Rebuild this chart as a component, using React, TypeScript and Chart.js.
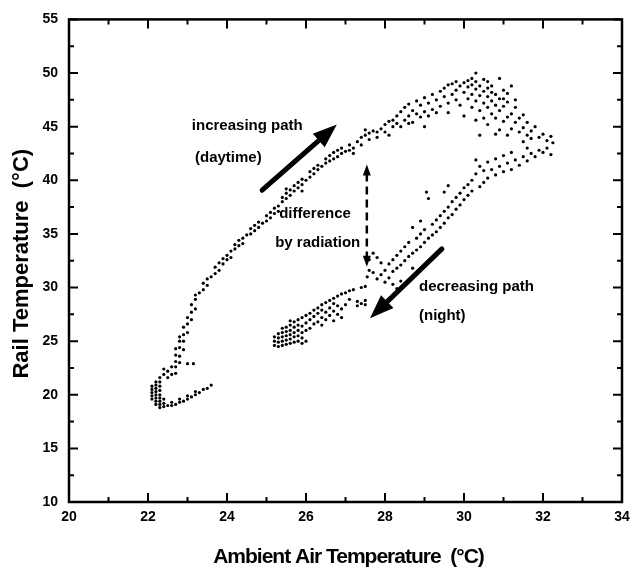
import React, { useEffect, useRef } from 'react';
import { Chart, registerables } from 'chart.js';

Chart.register(...registerables);

// ---- Data (Ambient Air Temperature °C, Rail Temperature °C) ----
const startCluster: [number, number][] = [
  [22.1, 19.6], [22.1, 19.9], [22.1, 20.2], [22.1, 20.5], [22.1, 20.8],
  [22.2, 19.1], [22.2, 19.4], [22.2, 19.7], [22.2, 20.0], [22.2, 20.3], [22.2, 20.6], [22.2, 20.9], [22.2, 21.2],
  [22.3, 18.8], [22.3, 19.1], [22.3, 19.4], [22.3, 19.7], [22.3, 20.0], [22.3, 20.4], [22.3, 20.8], [22.3, 21.2], [22.3, 21.6],
  [22.4, 18.9], [22.4, 19.2], [22.4, 19.6], [22.4, 21.9], [22.4, 22.4],
];

const lowerTail: [number, number][] = [
  [22.5, 19.0], [22.6, 19.0], [22.6, 19.3], [22.7, 19.1], [22.8, 19.3], [22.8, 19.6], [22.9, 19.4],
  [23.0, 19.6], [23.0, 19.9], [23.1, 19.8], [23.2, 20.0], [23.2, 20.3], [23.3, 20.2], [23.4, 20.5],
  [23.5, 20.6], [23.6, 20.9],
];

const daytimePath: [number, number][] = [
  [22.5, 21.6], [22.5, 22.2], [22.6, 21.9], [22.6, 22.6],
  [22.7, 22.0], [22.7, 22.6], [22.7, 23.1], [22.7, 23.7], [22.7, 24.3],
  [22.8, 23.0], [22.8, 23.6], [22.8, 24.4], [22.8, 25.0], [22.8, 25.4],
  [22.9, 24.2], [22.9, 25.0], [22.9, 25.6], [22.9, 26.3],
  [23.0, 22.9], [23.0, 25.8], [23.0, 26.6], [23.0, 27.2], [23.15, 22.9],
  [23.1, 27.0], [23.1, 27.7], [23.1, 28.4], [23.2, 28.0], [23.2, 28.9], [23.2, 29.3],
  [23.3, 29.5], [23.4, 29.8], [23.4, 30.4], [23.5, 30.2], [23.5, 30.8],
  [23.6, 31.0], [23.7, 31.3], [23.7, 31.9], [23.8, 31.6], [23.8, 32.3],
  [23.9, 32.2], [23.9, 32.7], [24.0, 32.6], [24.0, 33.0], [24.1, 32.8], [24.1, 33.4],
  [24.2, 33.6], [24.2, 34.0], [24.3, 33.9], [24.3, 34.4], [24.4, 34.6], [24.4, 34.1],
  [24.5, 34.9], [24.6, 35.0], [24.6, 35.5], [24.7, 35.3], [24.7, 35.8], [24.8, 35.6], [24.8, 36.1],
  [24.9, 36.0], [25.0, 36.2], [25.0, 36.7], [25.1, 36.5], [25.1, 37.0], [25.2, 36.9], [25.2, 37.4],
  [25.3, 37.6], [25.3, 37.1], [25.4, 38.0], [25.4, 38.4], [25.5, 38.3], [25.5, 38.8], [25.5, 39.2],
  [25.6, 38.6], [25.6, 39.1], [25.7, 39.0], [25.7, 39.5], [25.8, 39.3], [25.8, 39.8], [25.9, 39.6],
  [25.9, 40.1], [25.9, 39.0],
  [26.0, 40.0], [26.1, 40.3], [26.1, 40.8], [26.2, 40.6], [26.2, 41.1], [26.3, 41.0], [26.3, 41.4],
  [26.4, 41.3], [26.5, 41.6], [26.5, 42.0], [26.6, 41.8], [26.6, 42.3], [26.7, 42.0], [26.7, 42.6],
  [26.8, 42.2], [26.8, 42.8], [26.9, 42.5], [26.9, 43.0],
  [27.0, 42.7], [27.1, 42.8], [27.1, 43.3], [27.2, 43.0], [27.2, 42.5], [27.3, 43.6], [27.4, 43.3],
  [27.4, 44.0],
  [27.5, 44.2], [27.5, 44.7], [27.6, 43.8], [27.6, 44.4], [27.7, 44.6], [27.8, 44.0], [27.8, 44.5],
  [27.9, 44.8], [28.0, 44.5], [28.0, 45.2], [28.1, 44.2], [28.1, 45.5], [28.2, 45.0], [28.2, 45.6],
  [28.3, 45.3], [28.3, 46.0], [28.4, 45.0], [28.4, 46.4], [28.5, 45.6], [28.5, 46.8], [28.6, 46.0],
  [28.6, 47.1], [28.6, 45.3], [28.7, 45.4], [28.7, 46.5], [28.8, 46.2], [28.8, 47.4], [28.9, 45.9],
  [28.9, 47.0], [29.0, 46.4], [29.0, 47.7], [29.0, 45.0],
  [29.1, 47.2], [29.1, 46.0], [29.2, 46.6], [29.2, 48.0], [29.3, 47.5], [29.3, 46.3], [29.4, 48.3],
  [29.4, 46.9],
];

const peakCluster: [number, number][] = [
  [29.5, 47.8], [29.5, 48.6], [29.6, 47.2], [29.6, 48.9], [29.6, 46.3], [29.7, 48.0], [29.7, 49.0],
  [29.8, 47.5], [29.8, 48.4], [29.8, 49.2], [29.9, 48.8], [29.9, 47.0],
  [30.0, 48.2], [30.0, 49.1], [30.0, 46.0], [30.1, 47.6], [30.1, 48.7], [30.1, 49.3], [30.2, 48.0],
  [30.2, 48.9], [30.2, 46.8], [30.2, 49.5],
  [30.3, 47.4], [30.3, 48.5], [30.3, 49.2], [30.3, 45.6], [30.3, 50.0], [30.4, 47.9], [30.4, 48.8],
  [30.4, 46.5], [30.4, 44.2], [30.5, 47.2], [30.5, 48.3], [30.5, 49.4], [30.5, 45.8],
  [30.6, 46.8], [30.6, 47.8], [30.6, 48.6], [30.6, 45.2], [30.6, 49.2], [30.7, 46.2], [30.7, 47.4],
  [30.7, 48.2], [30.7, 48.8],
  [30.8, 45.8], [30.8, 47.0], [30.8, 48.0], [30.8, 44.3], [30.9, 46.5], [30.9, 47.6], [30.9, 49.5],
  [30.9, 44.7],
  [31.0, 45.5], [31.0, 46.9], [31.0, 48.4], [31.0, 47.6], [31.1, 45.9], [31.1, 47.3], [31.1, 44.2],
  [31.1, 48.1],
  [31.2, 44.8], [31.2, 46.2], [31.2, 48.8], [31.3, 45.4], [31.3, 46.8], [31.3, 47.5], [31.4, 44.5],
  [31.4, 45.8],
  [31.5, 44.9], [31.5, 46.1], [31.5, 43.6], [31.6, 44.2], [31.6, 45.4], [31.7, 44.6], [31.7, 43.9],
  [31.8, 45.0], [31.9, 44.0], [32.0, 44.3], [32.1, 43.7], [32.2, 44.1], [32.25, 43.5],
];

const descendingPath: [number, number][] = [
  [32.1, 43.0], [32.0, 42.6], [31.9, 42.8], [31.8, 42.2], [31.7, 42.5], [31.6, 41.8], [31.5, 42.2],
  [31.6, 43.0], [32.2, 42.4],
  [31.4, 41.4], [31.3, 41.9], [31.2, 41.0], [31.2, 42.6], [31.1, 41.6], [31.0, 40.8], [31.0, 42.3],
  [30.9, 41.3], [30.8, 40.5], [30.8, 42.0], [30.7, 41.0], [30.6, 40.2], [30.6, 41.7], [30.5, 39.8],
  [30.5, 40.9], [30.4, 39.4], [30.4, 41.3], [30.3, 40.6], [30.3, 41.9], [30.2, 39.0], [30.2, 40.0],
  [30.1, 38.6], [30.1, 39.6], [30.0, 38.2], [30.0, 39.3], [29.9, 37.7], [29.9, 38.8], [29.8, 37.3],
  [29.8, 38.4], [29.7, 36.8], [29.7, 38.0], [29.6, 36.5], [29.6, 37.5], [29.6, 39.5], [29.5, 36.0],
  [29.5, 37.1], [29.5, 38.9], [29.4, 35.6], [29.4, 36.7], [29.3, 35.2], [29.3, 36.3], [29.2, 34.9],
  [29.2, 35.9], [29.1, 34.6], [29.1, 38.3], [29.05, 38.9], [29.0, 34.2], [29.0, 35.4], [28.9, 33.8],
  [28.9, 35.0], [28.9, 36.2], [28.8, 33.5], [28.8, 34.6], [28.7, 33.2], [28.7, 35.6], [28.7, 31.8],
  [28.6, 32.9], [28.6, 34.2], [28.5, 32.5], [28.5, 33.8], [28.4, 32.1], [28.4, 33.4], [28.3, 31.8],
  [28.3, 33.0], [28.2, 31.5], [28.2, 32.6], [28.1, 30.9], [28.1, 32.2], [28.0, 30.5], [28.0, 31.6],
  [27.9, 31.2], [27.9, 32.3], [27.8, 30.8], [27.8, 32.8], [27.7, 31.4], [27.7, 33.2], [27.6, 31.6],
  [27.6, 32.6], [27.55, 31.0], [28.5, 30.2], [28.4, 30.6], [28.3, 29.9], [28.2, 30.3],
];

const nightBand: [number, number][] = [
  [25.2, 24.6], [25.2, 25.0], [25.2, 25.4],
  [25.3, 24.5], [25.3, 24.9], [25.3, 25.3], [25.3, 25.7],
  [25.4, 24.6], [25.4, 25.0], [25.4, 25.4], [25.4, 25.8], [25.4, 26.2],
  [25.5, 24.7], [25.5, 25.1], [25.5, 25.5], [25.5, 25.9], [25.5, 26.3],
  [25.6, 24.8], [25.6, 25.2], [25.6, 25.6], [25.6, 26.0], [25.6, 26.5], [25.6, 26.9],
  [25.7, 24.9], [25.7, 25.4], [25.7, 25.8], [25.7, 26.3], [25.7, 26.8],
  [25.8, 25.0], [25.8, 25.5], [25.8, 26.0], [25.8, 26.5], [25.8, 27.0],
  [25.9, 24.8], [25.9, 25.3], [25.9, 25.8], [25.9, 26.4], [25.9, 27.2],
  [26.0, 25.0], [26.0, 26.0], [26.0, 26.7], [26.0, 27.4],
  [26.1, 26.2], [26.1, 27.0], [26.1, 27.6],
  [26.2, 26.6], [26.2, 27.3], [26.2, 27.9],
  [26.3, 26.8], [26.3, 27.6], [26.3, 28.1],
  [26.4, 26.5], [26.4, 27.2], [26.4, 27.9], [26.4, 28.4],
  [26.5, 27.0], [26.5, 27.7], [26.5, 28.6],
  [26.6, 27.4], [26.6, 28.1], [26.6, 28.8],
  [26.7, 26.9], [26.7, 27.8], [26.7, 28.5], [26.7, 29.0],
  [26.8, 27.5], [26.8, 28.3], [26.8, 29.2],
  [26.9, 27.2], [26.9, 28.0], [26.9, 29.4],
  [27.0, 28.4], [27.0, 29.5], [27.1, 28.9], [27.1, 29.7], [27.2, 29.8],
  [27.3, 28.3], [27.3, 28.7], [27.4, 28.5], [27.4, 30.0],
  [27.5, 28.4], [27.5, 28.8], [27.5, 30.1],
];

// ---- Annotations (in data units) ----
const annotationTexts = [
  { text: 'increasing path', x: 23.11, y: 45.1 },
  { text: '(daytime)', x: 23.19, y: 42.1 },
  { text: 'difference', x: 25.32, y: 36.9 },
  { text: 'by radiation', x: 25.22, y: 34.2 },
  { text: 'decreasing path', x: 28.86, y: 30.1 },
  { text: '(night)', x: 28.86, y: 27.4 },
];
const dayArrow = { from: [24.89, 39.07], to: [26.78, 45.19] };
const nightArrow = { from: [29.44, 33.6], to: [27.62, 27.13] };
const radiationArrow = { x: 27.54, yLow: 31.94, yHigh: 41.48 };

const xTitle = 'Ambient Air Temperature  (°C)';
const yTitle = 'Rail Temperature  (°C)';

const FONT = '"Liberation Sans", Arial, Helvetica, sans-serif';

function drawHead(ctx: CanvasRenderingContext2D, x1: number, y1: number, x2: number, y2: number, len: number, half: number) {
  const ang = Math.atan2(y2 - y1, x2 - x1);
  const bx = x2 - len * Math.cos(ang);
  const by = y2 - len * Math.sin(ang);
  ctx.beginPath();
  ctx.moveTo(x2, y2);
  ctx.lineTo(bx + half * Math.sin(ang), by - half * Math.cos(ang));
  ctx.lineTo(bx - half * Math.sin(ang), by + half * Math.cos(ang));
  ctx.closePath();
  ctx.fill();
}

const decorPlugin = {
  id: 'decor',
  afterDatasetsDraw(chart: any) {
    const { ctx, scales } = chart;
    const xs = scales.x;
    const ys = scales.y;
    ctx.save();
    ctx.fillStyle = '#000';
    ctx.strokeStyle = '#000';
    ctx.font = `bold 15px ${FONT}`;
    ctx.textAlign = 'left';
    ctx.textBaseline = 'middle';
    annotationTexts.forEach((a) => {
      ctx.fillText(a.text, xs.getPixelForValue(a.x), ys.getPixelForValue(a.y));
    });
    [dayArrow, nightArrow].forEach((ar) => {
      const x1 = xs.getPixelForValue(ar.from[0]);
      const y1 = ys.getPixelForValue(ar.from[1]);
      const x2 = xs.getPixelForValue(ar.to[0]);
      const y2 = ys.getPixelForValue(ar.to[1]);
      const ang = Math.atan2(y2 - y1, x2 - x1);
      const len = 24;
      ctx.lineWidth = 5;
      ctx.lineCap = 'round';
      ctx.beginPath();
      ctx.moveTo(x1, y1);
      ctx.lineTo(x2 - (len - 4) * Math.cos(ang), y2 - (len - 4) * Math.sin(ang));
      ctx.stroke();
      drawHead(ctx, x1, y1, x2, y2, len, 9);
    });
    const dx = xs.getPixelForValue(radiationArrow.x);
    const dyTop = ys.getPixelForValue(radiationArrow.yHigh);
    const dyBot = ys.getPixelForValue(radiationArrow.yLow);
    ctx.lineWidth = 2.5;
    ctx.lineCap = 'butt';
    ctx.setLineDash([8, 5]);
    ctx.beginPath();
    ctx.moveTo(dx, dyTop + 9);
    ctx.lineTo(dx, dyBot - 9);
    ctx.stroke();
    ctx.setLineDash([]);
    drawHead(ctx, dx, dyBot, dx, dyTop, 11, 4);
    drawHead(ctx, dx, dyTop, dx, dyBot, 11, 4);
    ctx.restore();
  },
  afterDraw(chart: any) {
    const { ctx, chartArea: a, scales } = chart;
    const xs = scales.x;
    const ys = scales.y;
    ctx.save();
    ctx.strokeStyle = '#000';
    ctx.lineWidth = 2.5;
    ctx.strokeRect(a.left, a.top, a.right - a.left, a.bottom - a.top);
    ctx.lineWidth = 2;
    const major = 9;
    const minor = 5;
    const xv: number[] = xs.ticks.map((t: any) => t.value);
    const yv: number[] = ys.ticks.map((t: any) => t.value);
    const xTickAt = (v: number, l: number) => {
      const p = xs.getPixelForValue(v);
      ctx.beginPath();
      ctx.moveTo(p, a.bottom);
      ctx.lineTo(p, a.bottom - l);
      ctx.moveTo(p, a.top);
      ctx.lineTo(p, a.top + l);
      ctx.stroke();
    };
    const yTickAt = (v: number, l: number) => {
      const p = ys.getPixelForValue(v);
      ctx.beginPath();
      ctx.moveTo(a.left, p);
      ctx.lineTo(a.left + l, p);
      ctx.moveTo(a.right, p);
      ctx.lineTo(a.right - l, p);
      ctx.stroke();
    };
    xv.forEach((v, i) => {
      xTickAt(v, major);
      if (i < xv.length - 1) xTickAt((v + xv[i + 1]) / 2, minor);
    });
    yv.forEach((v, i) => {
      yTickAt(v, major);
      if (i < yv.length - 1) yTickAt((v + yv[i + 1]) / 2, minor);
    });
    ctx.fillStyle = '#000';
    ctx.font = `bold 21px ${FONT}`;
    (ctx as any).letterSpacing = '-1px';
    ctx.textAlign = 'center';
    ctx.textBaseline = 'alphabetic';
    ctx.fillText(xTitle, (a.left + a.right) / 2 + 3, 563);
    (ctx as any).letterSpacing = '0px';
    ctx.font = `bold 22px ${FONT}`;
    ctx.translate(28, (a.top + a.bottom) / 2 + 3);
    ctx.rotate(-Math.PI / 2);
    ctx.fillText(yTitle, 0, 0);
    ctx.restore();
  },
};

const pointStyle = {
  showLine: false,
  pointRadius: 1.6,
  pointHoverRadius: 1.6,
  pointBackgroundColor: '#000',
  pointBorderWidth: 0,
  borderColor: '#000',
  backgroundColor: '#000',
};

export default function App() {
  const canvasRef = useRef<HTMLCanvasElement | null>(null);

  useEffect(() => {
    if (!canvasRef.current) return;
    const toPts = (arr: [number, number][]) => arr.map(([x, y]) => ({ x, y }));
    const chart = new Chart(canvasRef.current, {
      type: 'scatter',
      data: {
        datasets: [
          { label: 'start', data: toPts(startCluster), ...pointStyle },
          { label: 'tail', data: toPts(lowerTail), ...pointStyle },
          { label: 'daytime', data: toPts(daytimePath), ...pointStyle },
          { label: 'peak', data: toPts(peakCluster), ...pointStyle },
          { label: 'descending', data: toPts(descendingPath), ...pointStyle },
          { label: 'night', data: toPts(nightBand), ...pointStyle },
        ],
      },
      options: {
        animation: false,
        responsive: false,
        events: [],
        layout: { padding: { top: 16, right: 19, left: 0, bottom: 0 } },
        plugins: { legend: { display: false }, tooltip: { enabled: false } },
        scales: {
          x: {
            type: 'linear',
            min: 20,
            max: 34,
            grid: { display: false, drawTicks: false },
            border: { display: false },
            ticks: {
              stepSize: 2,
              padding: 7,
              color: '#000',
              font: { family: FONT, size: 14, weight: 'bold' },
            },
            afterFit: (s: any) => { s.height = 69; },
          },
          y: {
            type: 'linear',
            min: 10,
            max: 55,
            grid: { display: false, drawTicks: false },
            border: { display: false },
            ticks: {
              stepSize: 5,
              padding: 11,
              color: '#000',
              font: { family: FONT, size: 14, weight: 'bold' },
            },
            afterFit: (s: any) => { s.width = 69; },
          },
        },
      },
      plugins: [decorPlugin],
    } as any);
    return () => chart.destroy();
  }, []);

  return (
    <div style={{ position: 'absolute', left: 0, top: 0, width: 641, height: 571, background: '#fff' }}>
      <canvas ref={canvasRef} width={641} height={571} style={{ display: 'block' }} />
    </div>
  );
}
